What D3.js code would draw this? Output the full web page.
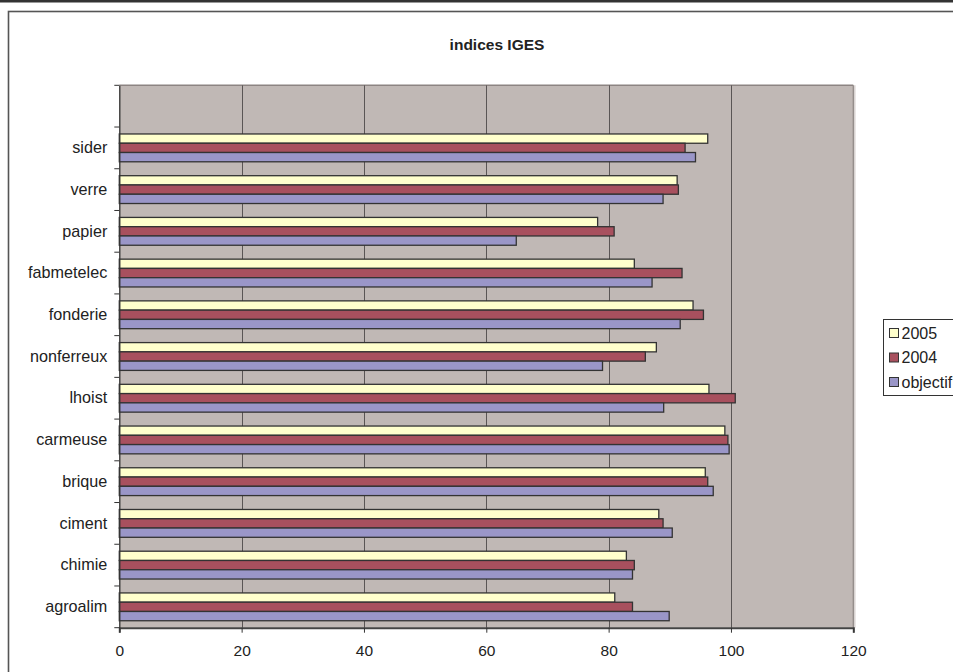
<!DOCTYPE html>
<html>
<head>
<meta charset="utf-8">
<script src="https://cdn.jsdelivr.net/npm/d3@7"></script>
<style>
  html, body { margin: 0; padding: 0; background: #fff; }
  svg { display: block; font-family: "Liberation Sans", Arial, sans-serif; }
</style>
</head>
<body>
<svg id="chart" width="953" height="672"></svg>
<script>
// Sectors, top to bottom (the first slot is left blank)
const categories = ["", "sider", "verre", "papier", "fabmetelec", "fonderie", "nonferreux",
                    "lhoist", "carmeuse", "brique", "ciment", "chimie", "agroalim"];
const seriesNames = ["2005", "2004", "objectif"];
const values2005     = [null, 96.2, 91.2, 78.2, 84.2, 93.8, 87.8, 96.4, 99.0, 95.8, 88.2, 82.9, 81.0];
const values2004     = [null, 92.5, 91.4, 80.9, 92.0, 95.5, 86.0, 100.7, 99.5, 96.2, 88.9, 84.2, 83.9];
const valuesObjectif = [null, 94.2, 88.9, 64.9, 87.1, 91.7, 79.0, 89.0, 99.7, 97.1, 90.4, 83.9, 89.9];
const xTicks = [0, 20, 40, 60, 80, 100, 120];
const seriesColors = ["#FFFFCC", "#A8505E", "#9A96C8"];

const seriesValues = [values2005, values2004, valuesObjectif];
const svg = d3.select("#chart");

// Top strip and outer chart frame
svg.append("rect").attr("x", 0).attr("y", 0).attr("width", 953).attr("height", 2.5).attr("fill", "#333");
svg.append("rect").attr("x", 8.5).attr("y", 11.5).attr("width", 960).attr("height", 680)
  .attr("fill", "#fff").attr("stroke", "#555").attr("stroke-width", 1.6);

const plot = { left: 119.3, right: 853.3, top: 85.3, bottom: 627.7 };

const x = d3.scaleLinear().domain([0, 120]).range([plot.left, plot.right]);
const y = d3.scaleBand().domain(categories).range([plot.top, plot.bottom]).padding(0);
const groupH = y.bandwidth() / 1.5;
const sub = d3.scaleBand().domain(seriesNames)
  .range([(y.bandwidth() - groupH) / 2, (y.bandwidth() + groupH) / 2]);

// Plot area background
svg.append("rect")
  .attr("x", plot.left).attr("y", plot.top)
  .attr("width", plot.right - plot.left).attr("height", plot.bottom - plot.top)
  .attr("fill", "#C0B8B5");
// subtle shadow on the right edge
svg.append("line").attr("x1", plot.right + 1.5).attr("x2", plot.right + 1.5)
  .attr("y1", plot.top).attr("y2", plot.bottom).attr("stroke", "#d8d2d0").attr("stroke-width", 1.5);
svg.append("line").attr("x1", plot.left).attr("x2", plot.right)
  .attr("y1", plot.top).attr("y2", plot.top).attr("stroke", "#8c8482").attr("stroke-width", 1.5);
svg.append("line").attr("x1", plot.right).attr("x2", plot.right)
  .attr("y1", plot.top).attr("y2", plot.bottom).attr("stroke", "#8c8482").attr("stroke-width", 1.2);

// Vertical gridlines
svg.append("g").selectAll("line")
  .data(xTicks.filter(t => t > 0 && t < 120))
  .join("line")
  .attr("x1", d => Math.round(x(d)) + 0.5).attr("x2", d => Math.round(x(d)) + 0.5)
  .attr("y1", plot.top).attr("y2", plot.bottom)
  .attr("stroke", "#5a5555").attr("stroke-width", 1);

// Bars
const rows = categories.map((c, i) => ({ cat: c, vals: seriesValues.map(s => s[i]) }))
  .filter(r => r.cat !== "");
const groups = svg.append("g").selectAll("g")
  .data(rows)
  .join("g")
  .attr("transform", d => `translate(0,${y(d.cat)})`);
groups.selectAll("rect")
  .data(d => d.vals.map((v, k) => ({ key: seriesNames[k], v, k })))
  .join("rect")
  .attr("x", x(0))
  .attr("y", d => sub(d.key))
  .attr("width", d => x(d.v) - x(0))
  .attr("height", sub.bandwidth())
  .attr("fill", d => seriesColors[d.k])
  .attr("stroke", "#333")
  .attr("stroke-width", 1.3);

// Bottom axis
const xAxis = d3.axisBottom(x).tickValues(xTicks).tickSize(5).tickPadding(12);
const gx = svg.append("g").attr("transform", `translate(0,${plot.bottom})`).call(xAxis);
gx.select(".domain").attr("stroke", "#444").attr("stroke-width", 2);
gx.selectAll(".tick line").attr("stroke", "#333");
gx.selectAll("text").attr("fill", "#222").attr("font-size", 15.5)
  .attr("font-family", "Liberation Sans, Arial, sans-serif");

// Left axis with ticks at slot boundaries
const yAxis = d3.axisLeft(y).tickSize(0).tickPadding(12);
const gy = svg.append("g").attr("transform", `translate(${plot.left},0)`).call(yAxis);
gy.select(".domain").attr("stroke", "#333").attr("stroke-width", 1.3);
gy.selectAll("text").attr("fill", "#222").attr("font-size", 16.2)
  .attr("font-family", "Liberation Sans, Arial, sans-serif");
const boundaries = categories.map(c => y(c)).concat([plot.bottom]);
gy.append("g").selectAll("line")
  .data(boundaries)
  .join("line")
  .attr("x1", -5).attr("x2", 0)
  .attr("y1", d => d).attr("y2", d => d)
  .attr("stroke", "#333").attr("stroke-width", 1);

// Title
svg.append("text")
  .attr("x", 497).attr("y", 50)
  .attr("text-anchor", "middle")
  .attr("font-size", 15.5).attr("font-weight", "bold").attr("fill", "#222")
  .text("indices IGES");

// Legend
const legend = svg.append("g").attr("transform", "translate(883.5,319.5)");
legend.append("rect").attr("width", 100).attr("height", 76)
  .attr("fill", "#fff").attr("stroke", "#333").attr("stroke-width", 1);
const items = legend.selectAll("g.item")
  .data(seriesNames)
  .join("g").attr("class", "item")
  .attr("transform", (d, i) => `translate(6,${13.5 + i * 24.5})`);
items.append("rect")
  .attr("x", 0).attr("y", -4.5).attr("width", 9).attr("height", 9)
  .attr("fill", (d, i) => seriesColors[i]).attr("stroke", "#333").attr("stroke-width", 1);
items.append("text")
  .attr("x", 12).attr("y", 5.5)
  .attr("font-size", 16).attr("fill", "#222")
  .text(d => d);
</script>
</body>
</html>
